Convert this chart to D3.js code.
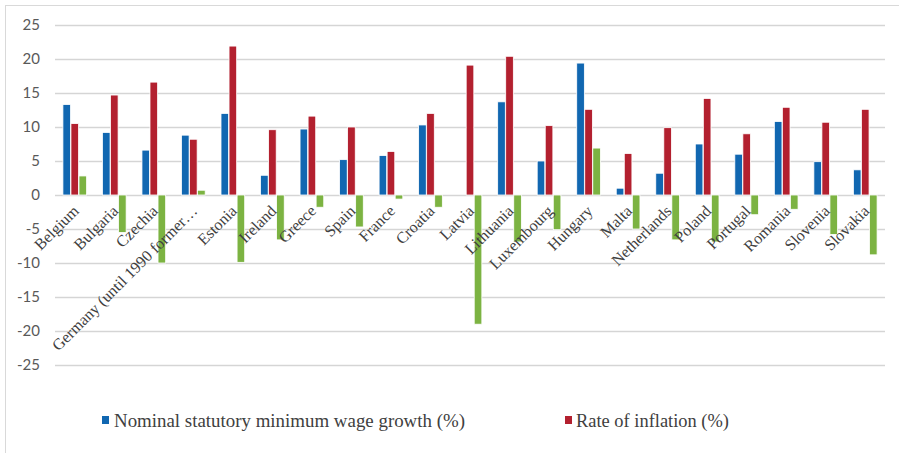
<!DOCTYPE html>
<html>
<head>
<meta charset="utf-8">
<script src="https://cdn.jsdelivr.net/npm/d3@7/dist/d3.min.js"></script>
<style>
  html, body { margin: 0; padding: 0; background: #fff; }
  svg { display: block; }
</style>
</head>
<body>
<svg id="chart" width="899" height="453"></svg>
<script>
// Countries along the category axis
const categories = ["Belgium", "Bulgaria", "Czechia", "Germany (until 1990 former\u2026", "Estonia",
  "Ireland", "Greece", "Spain", "France", "Croatia", "Latvia", "Lithuania", "Luxembourg",
  "Hungary", "Malta", "Netherlands", "Poland", "Portugal", "Romania", "Slovenia", "Slovakia"];

// Nominal statutory minimum wage growth (%)
const wageGrowth = [13.3, 9.2, 6.6, 8.8, 12.0, 2.9, 9.7, 5.2, 5.8, 10.3, 0, 13.7, 5.0,
  19.4, 1.0, 3.2, 7.5, 6.0, 10.8, 4.9, 3.7];

// Rate of inflation (%)
const inflation = [10.5, 14.7, 16.6, 8.2, 21.9, 9.6, 11.6, 10.0, 6.4, 12.0, 19.1, 20.4, 10.2,
  12.6, 6.1, 9.9, 14.2, 9.0, 12.9, 10.7, 12.6];

// Real minimum wage change (%)
const realGrowth = [2.8, -5.5, -10.0, 0.7, -9.9, -6.6, -1.8, -4.7, -0.6, -1.8, -19.0, -6.9, -5.1,
  6.9, -5.0, -6.6, -6.9, -2.9, -2.1, -5.8, -8.8];

const yTicks = [25, 20, 15, 10, 5, 0, -5, -10, -15, -20, -25];

const seriesNames = ["Nominal statutory minimum wage growth (%)", "Rate of inflation (%)", "Real minimum wage change (%)"];
const seriesColors = ["#1167b1", "#b3202f", "#7cb342"];
const seriesValues = [wageGrowth, inflation, realGrowth];

const svg = d3.select("#chart");

// outer chart frame
svg.append("rect")
  .attr("x", 5.5).attr("y", 5.5)
  .attr("width", 910).attr("height", 470)
  .attr("fill", "none").attr("stroke", "#d9d9d9").attr("stroke-width", 1);

const plot = { left: 55, right: 885, top: 25, bottom: 365 };

const y = d3.scaleLinear().domain([-25, 25]).range([plot.bottom, plot.top]);
const x0 = d3.scaleBand().domain(categories).range([plot.left, plot.right])
  .paddingInner(0.38).paddingOuter(0.19);
const x1 = d3.scaleBand().domain(d3.range(3)).range([0, x0.bandwidth()]).padding(0.05);

// gridlines
svg.append("g")
  .selectAll("line").data(yTicks).join("line")
  .attr("x1", plot.left).attr("x2", plot.right)
  .attr("y1", d => Math.round(y(d)) + 0.5).attr("y2", d => Math.round(y(d)) + 0.5)
  .attr("stroke", "#d5d5d5").attr("stroke-width", 1.5);

// y axis labels
const yAxis = d3.axisLeft(y).tickValues(yTicks).tickSize(0).tickPadding(0)
  .tickFormat(d => d < 0 ? "-" + Math.abs(d) : String(d));
const yg = svg.append("g").attr("transform", `translate(40,0)`).call(yAxis);
yg.select(".domain").remove();
yg.selectAll("text")
  .attr("font-family", "Lato, 'Open Sans', sans-serif")
  .attr("font-size", 15).attr("fill", "#595959");

// bars
const groups = svg.append("g").selectAll("g").data(categories).join("g")
  .attr("transform", d => `translate(${x0(d)},0)`);

groups.selectAll("rect")
  .data((d, i) => seriesValues.map((vals, s) => ({ s, v: vals[i] })))
  .join("rect")
  .attr("x", d => x1(d.s))
  .attr("width", x1.bandwidth())
  .attr("y", d => y(Math.max(0, d.v)))
  .attr("height", d => Math.abs(y(d.v) - y(0)))
  .attr("fill", d => seriesColors[d.s])
  .attr("stroke", "#fff").attr("stroke-width", 0.8);

// category labels, rotated
svg.append("g").selectAll("text").data(categories).join("text")
  .attr("transform", d => `translate(${x0(d) + x0.bandwidth() / 2 + 5},${y(0) + 17}) rotate(-45)`)
  .attr("text-anchor", "end")
  .attr("font-family", "'Liberation Serif', 'Times New Roman', serif")
  .attr("font-size", 16).attr("fill", "#404040")
  .text(d => d);

// legend (first two series)
const legendItems = [
  { s: 0, sx: 102, tx: 114, len: 351 },
  { s: 1, sx: 565, tx: 576, len: 153 }
];
const lg = svg.append("g");
legendItems.forEach(it => {
  lg.append("rect").attr("x", it.sx).attr("y", 416).attr("width", 7).attr("height", 8)
    .attr("fill", seriesColors[it.s]);
  lg.append("text").attr("x", it.tx).attr("y", 427)
    .attr("font-family", "'Liberation Serif', 'Times New Roman', serif")
    .attr("font-size", 19).attr("fill", "#404040")
    .attr("textLength", it.len).attr("lengthAdjust", "spacingAndGlyphs")
    .text(seriesNames[it.s]);
});
</script>
</body>
</html>
